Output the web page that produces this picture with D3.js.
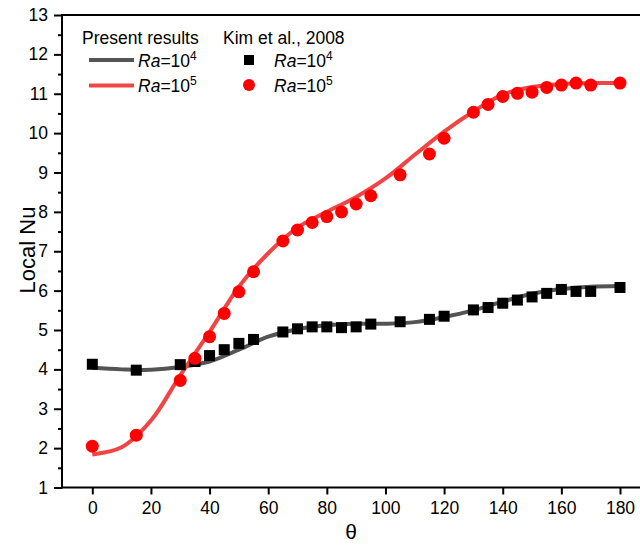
<!DOCTYPE html>
<html>
<head>
<meta charset="utf-8">
<script src="https://cdn.jsdelivr.net/npm/d3@7"></script>
<style>
  body { margin: 0; background: #fff; }
  svg { display: block; font-family: Arial, "Liberation Sans", sans-serif; }
</style>
</head>
<body>
<svg id="chart" width="640" height="549"></svg>
<script>
// present results (curves)
var thetaLine = [0, 10, 20, 30, 40, 50, 60, 70, 80, 90, 100, 110, 120, 130, 140, 150, 160, 170, 180];
var presentRa4 = [4.04, 4.0, 3.99, 4.06, 4.2, 4.5, 4.83, 5.02, 5.12, 5.16, 5.16, 5.2, 5.33, 5.5, 5.72, 5.92, 6.04, 6.1, 6.12];
var presentRa5 = [1.84, 2.02, 2.7, 3.85, 4.95, 6.1, 6.95, 7.6, 8.0, 8.38, 8.85, 9.45, 10.04, 10.55, 10.98, 11.17, 11.25, 11.27, 11.27];

// Kim et al., 2008 (markers)
var thetaKim = [0, 15, 30, 35, 40, 45, 50, 55, 65, 70, 75, 80, 85, 90, 95, 105, 115, 120, 130, 135, 140, 145, 150, 155, 160, 165, 170, 180];
var kimRa4 = [4.13, 3.98, 4.12, 4.2, 4.35, 4.5, 4.66, 4.76, 4.95, 5.03, 5.08, 5.08, 5.06, 5.08, 5.15, 5.21, 5.27, 5.35, 5.51, 5.57, 5.68, 5.76, 5.84, 5.93, 6.03, 5.98, 5.98, 6.08];
var kimRa5 = [2.05, 2.33, 3.72, 4.28, 4.83, 5.42, 5.97, 6.48, 7.26, 7.54, 7.73, 7.88, 8.0, 8.2, 8.41, 8.94, 9.47, 9.87, 10.53, 10.73, 10.93, 11.01, 11.04, 11.16, 11.22, 11.27, 11.22, 11.27];

var yTicks = [1, 2, 3, 4, 5, 6, 7, 8, 9, 10, 11, 12, 13];
var xTicks = [0, 20, 40, 60, 80, 100, 120, 140, 160, 180];

var svg = d3.select("#chart");
var plotLeft = 62, plotRight = 640, plotTop = 15, plotBottom = 487.5;

var x = d3.scaleLinear().domain([0, 180]).range([92.3, 620]);
var y = d3.scaleLinear().domain([1, 13]).range([plotBottom, plotTop]);

// axes
var yAxis = d3.axisLeft(y).tickValues(yTicks).tickSize(8).tickPadding(6).tickFormat(d3.format("d"));
var gy = svg.append("g").attr("transform", "translate(" + plotLeft + ",0)").call(yAxis);
var yMinor = d3.axisLeft(y).tickValues(d3.range(1.5, 13, 1)).tickSize(4).tickFormat("");
var gym = svg.append("g").attr("transform", "translate(" + plotLeft + ",0)").call(yMinor);

var xAxis = d3.axisBottom(x).tickValues(xTicks).tickSize(7).tickPadding(7);
var gx = svg.append("g").attr("transform", "translate(0," + plotBottom + ")").call(xAxis);

[gy, gym, gx].forEach(function(g) {
    g.select(".domain").remove();
    g.selectAll("line").attr("stroke", "#000").attr("stroke-width", 2);
    g.selectAll("text").attr("font-size", 17.5).attr("fill", "#000")
        .attr("font-family", "Arial, 'Liberation Sans', sans-serif");
});

// frame lines
svg.append("line").attr("x1", plotLeft).attr("x2", plotLeft).attr("y1", plotTop - 1).attr("y2", plotBottom + 1)
    .attr("stroke", "#000").attr("stroke-width", 2);
svg.append("line").attr("x1", plotLeft - 1).attr("x2", plotRight).attr("y1", plotBottom).attr("y2", plotBottom)
    .attr("stroke", "#000").attr("stroke-width", 2);
svg.append("line").attr("x1", plotLeft - 1).attr("x2", plotRight).attr("y1", plotTop).attr("y2", plotTop)
    .attr("stroke", "#000").attr("stroke-width", 2);

// axis titles
svg.append("text").attr("x", (plotLeft + plotRight) / 2).attr("y", 539)
    .attr("text-anchor", "middle").attr("font-size", 21).text("θ");
svg.append("text").attr("transform", "translate(35,250)rotate(-90)")
    .attr("text-anchor", "middle").attr("font-size", 22).text("Local Nu");

// curves
var line = d3.line()
    .x(function(d) { return x(d[0]); })
    .y(function(d) { return y(d[1]); })
    .curve(d3.curveCatmullRom.alpha(0.5));

svg.append("path").datum(d3.zip(thetaLine, presentRa4))
    .attr("d", line).attr("fill", "none").attr("stroke", "#545454").attr("stroke-width", 4);
svg.append("path").datum(d3.zip(thetaLine, presentRa5))
    .attr("d", line).attr("fill", "none").attr("stroke", "#f04545").attr("stroke-width", 4);

// markers
svg.selectAll("rect.kim4")
    .data(d3.zip(thetaKim, kimRa4))
    .enter()
    .append("rect")
        .attr("class", "kim4")
        .attr("x", function(d) { return x(d[0]) - 5.5; })
        .attr("y", function(d) { return y(d[1]) - 5.5; })
        .attr("width", 11)
        .attr("height", 11)
        .attr("fill", "#000");

svg.selectAll("circle.kim5")
    .data(d3.zip(thetaKim, kimRa5))
    .enter()
    .append("circle")
        .attr("class", "kim5")
        .attr("cx", function(d) { return x(d[0]); })
        .attr("cy", function(d) { return y(d[1]); })
        .attr("r", 6.5)
        .attr("fill", "#ff0000");

// legend
var lg = svg.append("g").attr("font-size", 17.5).attr("fill", "#000");
lg.append("text").attr("x", 82).attr("y", 44).text("Present results");
lg.append("text").attr("x", 223).attr("y", 44).text("Kim et al., 2008");

function raLabel(px, py, exp) {
    var t = lg.append("text").attr("x", px).attr("y", py);
    t.append("tspan").attr("font-style", "italic").text("Ra");
    t.append("tspan").text("=10");
    t.append("tspan").attr("font-size", 12).attr("dy", -7).text(exp);
}

lg.append("line").attr("x1", 89).attr("x2", 134).attr("y1", 60).attr("y2", 60)
    .attr("stroke", "#545454").attr("stroke-width", 4);
lg.append("line").attr("x1", 89).attr("x2", 134).attr("y1", 85.5).attr("y2", 85.5)
    .attr("stroke", "#f04545").attr("stroke-width", 4);
raLabel(138, 67, "4");
raLabel(138, 92, "5");

lg.append("rect").attr("x", 244).attr("y", 55).attr("width", 10).attr("height", 10).attr("fill", "#000");
lg.append("circle").attr("cx", 249).attr("cy", 85).attr("r", 6).attr("fill", "#ff0000");
raLabel(274, 67, "4");
raLabel(274, 92, "5");
</script>
</body>
</html>
